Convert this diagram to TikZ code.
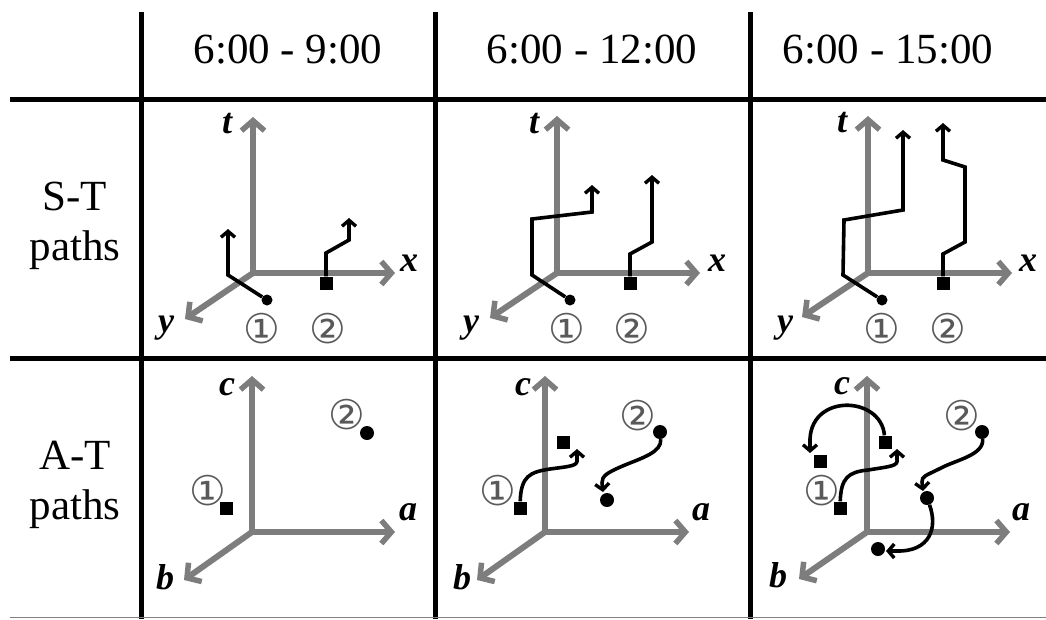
\documentclass[tikz,border=0pt]{standalone}
\usepackage{fontspec}
\setmainfont{Liberation Serif}
\newfontfamily\dejavu{DejaVu Sans}
\usetikzlibrary{arrows.meta}
\definecolor{axgray}{RGB}{125,125,125}
\begin{document}
\begin{tikzpicture}[x=1pt,y=-1pt,
 gridl/.style={line width=5pt,black},
 axis/.style={axgray,line width=6pt,-{Straight Barb[length=10pt,width=23pt,line width=5.5pt]}},
 pth/.style={black,line width=3.6pt,-{Straight Barb[length=6pt,width=14pt,line width=3.4pt]}},
 sqm/.style={fill=black,rectangle,minimum size=13pt,inner sep=0pt},
 dotm/.style={fill=black,circle,minimum size=11pt,inner sep=0pt},
 dotl/.style={dotm,minimum size=14pt},
 axl/.style={font=\fontsize{36}{36}\selectfont\bfseries\itshape,inner sep=0pt},
 num/.style={font=\dejavu\fontsize{41}{41}\selectfont,text=black!65,inner sep=0pt},
 head/.style={font=\fontsize{43}{43}\selectfont},
 rowl/.style={font=\fontsize{43}{50}\selectfont,align=center}]
\useasboundingbox[fill=white] (0,0) rectangle (1046,619);
% grid
\draw[gridl] (10,99) -- (1046,99);
\draw[gridl] (10,358) -- (1046,358);
\draw[gridl] (141,12) -- (141,619);
\draw[gridl] (435,12) -- (435,619);
\draw[gridl] (750,12) -- (750,619);
\draw[black!50,line width=1pt] (10,617.5) -- (1046,617.5);
% headers
\node[head] (h1) at (288,50) {6:00 - 9:00};
\node[head] (h2) at (592,50) {6:00 - 12:00};
\node[head] (h3) at (888,50) {6:00 - 15:00};
\node[rowl] (r1) at (75,226) {S-T\\paths};
\node[rowl] (r2) at (75,485) {A-T\\paths};

% ---------- S-T cell 1
\coordinate (O1) at (253,273); \coordinate (T1) at (253,117);
\coordinate (X1) at (395,273); \coordinate (Y1) at (185,319);
\draw[axis] (O1) -- (T1); \draw[axis] (O1) -- (X1); \draw[axis] (O1) -- (Y1);
\node[axl] (lt1) at (227,124) {t};
\node[axl] (lx1) at (409,263) {x};
\node[axl] (ly1) at (166,328) {y};
\node[dotm] (d11) at (267,300) {};
\node[sqm] (s11) at (326,283) {};
\coordinate (e11) at (228,229); \coordinate (e12) at (349,218);
\draw[pth] (d11) -- (228,275) -- (e11);
\draw[pth] (s11) -- (326,253) -- (349,240) -- (e12);
\node[num] (n11) at (262,329) {①};
\node[num] (n12) at (328,329) {②};

% ---------- S-T cell 2
\coordinate (O2) at (557,273); \coordinate (T2) at (557,116);
\coordinate (X2) at (700,273); \coordinate (Y2) at (490,318);
\draw[axis] (O2) -- (T2); \draw[axis] (O2) -- (X2); \draw[axis] (O2) -- (Y2);
\node[axl] (lt2) at (534,124) {t};
\node[axl] (lx2) at (717,263) {x};
\node[axl] (ly2) at (471,328) {y};
\node[dotm] (d21) at (570,300) {};
\node[sqm] (s21) at (630,283) {};
\coordinate (e21) at (592,185); \coordinate (e22) at (652,175);
\draw[pth] (d21) -- (532,275) -- (532,219) -- (592,212) -- (e21);
\draw[pth] (s21) -- (630,254) -- (652,242) -- (e22);
\node[num] (n21) at (567,329) {①};
\node[num] (n22) at (632,329) {②};

% ---------- S-T cell 3
\coordinate (O3) at (868,273); \coordinate (T3) at (868,116);
\coordinate (X3) at (1012,273); \coordinate (Y3) at (802,317);
\draw[axis] (O3) -- (T3); \draw[axis] (O3) -- (X3); \draw[axis] (O3) -- (Y3);
\node[axl] (lt3) at (842,123) {t};
\node[axl] (lx3) at (1028,263) {x};
\node[axl] (ly3) at (785,328) {y};
\node[dotm] (d31) at (882,300) {};
\node[sqm] (s31) at (943,283) {};
\coordinate (e31) at (903,130); \coordinate (e32) at (943,123);
\draw[pth] (d31) -- (843,275) -- (844,220) -- (903,210) -- (e31);
\draw[pth] (s31) -- (943,254) -- (965,242) -- (965,167) -- (943,160) -- (e32);
\node[num] (n31) at (882,329) {①};
\node[num] (n32) at (948,329) {②};

% ---------- A-T cell 1
\coordinate (P1) at (252,532); \coordinate (C1) at (252,376);
\coordinate (A1) at (395,532); \coordinate (B1) at (184,580);
\draw[axis] (P1) -- (C1); \draw[axis] (P1) -- (A1); \draw[axis] (P1) -- (B1);
\node[axl] (lc1) at (227,387) {c};
\node[axl] (la1) at (408,512) {a};
\node[axl] (lb1) at (165,577) {b};
\node[sqm] (q11) at (226,508) {};
\node[dotl] (p11) at (367,433) {};
\node[num] (m11) at (208,491) {①};
\node[num] (m12) at (347,415) {②};

% ---------- A-T cell 2
\coordinate (P2) at (545,532); \coordinate (C2) at (545,376);
\coordinate (A2) at (689,532); \coordinate (B2) at (477,580);
\draw[axis] (P2) -- (C2); \draw[axis] (P2) -- (A2); \draw[axis] (P2) -- (B2);
\node[axl] (lc2) at (523,387) {c};
\node[axl] (la2) at (701,512) {a};
\node[axl] (lb2) at (462,577) {b};
\node[sqm] (q21) at (520,508) {};
\node[sqm] (q22) at (563,442) {};
\node[dotl] (p21) at (660,432) {};
\node[dotl] (p22) at (607,500) {};
\coordinate (f21) at (577,449); \coordinate (f22) at (603,492);
\draw[pth] (q21) .. controls (521,476) and (530,472) .. (550,469) .. controls (572,466) and (578,466) .. (577,459) -- (f21);
\draw[pth] (p21) .. controls (662,452) and (642,458) .. (625,465) .. controls (606,473) and (602,476) .. (602,483) -- (f22);
\node[num] (m21) at (498,491) {①};
\node[num] (m22) at (638,416) {②};

% ---------- A-T cell 3
\coordinate (P3) at (867,532); \coordinate (C3) at (867,376);
\coordinate (A3) at (1010,532); \coordinate (B3) at (799,579);
\draw[axis] (P3) -- (C3); \draw[axis] (P3) -- (A3); \draw[axis] (P3) -- (B3);
\node[axl] (lc3) at (842,386) {c};
\node[axl] (la3) at (1021,512) {a};
\node[axl] (lb3) at (778,575) {b};
\node[sqm] (q31) at (840,508) {};
\node[sqm] (q32) at (885,442) {};
\node[sqm] (q33) at (820,461) {};
\node[dotl] (p31) at (982,432) {};
\node[dotl] (p32) at (927,498) {};
\node[dotl] (p33) at (878,549) {};
\coordinate (f31) at (897,449); \coordinate (f32) at (810,453);
\coordinate (f33) at (923,491); \coordinate (f34) at (886,551);
\draw[pth] (q31) .. controls (841,478) and (848,472) .. (868,470) .. controls (893,466) and (898,466) .. (897,459) -- (f31);
\draw[pth] (q32) .. controls (881,395) and (808,393) .. (810,443) -- (f32);
\draw[pth] (p31) .. controls (984,455) and (956,460) .. (941,468) .. controls (925,476) and (922,476) .. (922,482) -- (f33);
\draw[pth] (p32) .. controls (938,528) and (930,552) .. (896,551) -- (f34);
\node[num] (m31) at (822,491) {①};
\node[num] (m32) at (962,416) {②};
\end{tikzpicture}
\end{document}
